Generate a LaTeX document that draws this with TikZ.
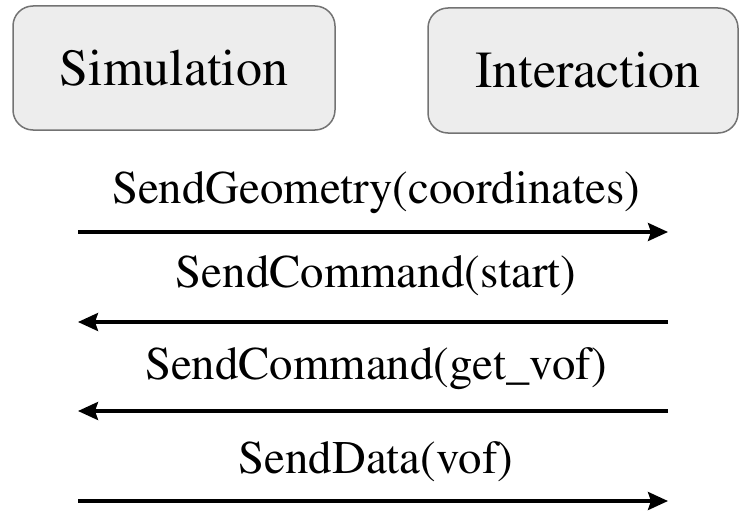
\documentclass[tikz,border=0pt]{standalone}
\usepackage[T1]{fontenc}
\usepackage{times}
\usetikzlibrary{arrows.meta}
\begin{document}
\begin{tikzpicture}[x=1pt,y=-1pt,
  box/.style={draw=black!55,line width=1.5pt,fill=black!7,rounded corners=20pt,
    minimum width=322pt,minimum height=124pt,inner sep=0pt,
    font=\fontsize{52}{60}\selectfont},
  lbl/.style={anchor=base,inner sep=0pt,font=\fontsize{46.8}{54}\selectfont},
  msg/.style={line width=3.4pt,-{Stealth[length=20pt,width=18pt,inset=3pt]}}]
\useasboundingbox (0,0) rectangle (741,511);
\node[box] (sim) at (174,68) {Simulation};
\node[box,minimum width=310pt,minimum height=125pt] (int) at (583,70.5) {\hspace*{10pt}Interaction};
\coordinate (s1) at (78,232); \coordinate (i1) at (668,232);
\coordinate (s2) at (78,322); \coordinate (i2) at (668,322);
\coordinate (s3) at (78,411); \coordinate (i3) at (668,411);
\coordinate (s4) at (78,501); \coordinate (i4) at (668,501);
\node[lbl] (l1) at (376,203) {SendGeometry(coordinates)};
\node[lbl] (l2) at (376,287) {SendCommand(start)};
\node[lbl] (l3) at (376,379) {SendCommand(get\_vof)};
\node[lbl] (l4) at (376,473) {SendData(vof)};
\draw[msg] (s1) -- (i1);
\draw[msg] (i2) -- (s2);
\draw[msg] (i3) -- (s3);
\draw[msg] (s4) -- (i4);
\end{tikzpicture}
\end{document}
